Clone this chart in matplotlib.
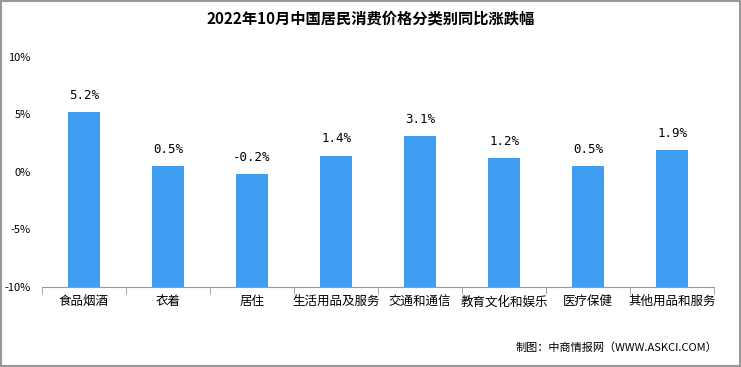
import matplotlib.pyplot as plt
import numpy as np

plt.rcParams['font.family'] = ['Noto Sans CJK SC', 'DejaVu Sans']

categories = ['食品烟酒', '衣着', '居住', '生活用品及服务', '交通和通信', '教育文化和娱乐', '医疗保健', '其他用品和服务']
values = [5.2, 0.5, -0.2, 1.4, 3.1, 1.2, 0.5, 1.9]
yticks = [-10, -5, 0, 5, 10]

fig = plt.figure(figsize=(7.41, 3.67), dpi=100)
ax = fig.add_axes([0.0567, 0.218, 0.907, 0.627])

x = np.arange(len(categories))
base = -10
# bars start at the bottom of the axis (-10%), as in the original
ax.bar(x, np.array(values) - base, bottom=base, width=0.38, color='#409EF2')
for xi, v in zip(x, values):
    ax.text(xi, v + 0.9, '%.1f%%' % v, ha='center', va='bottom', fontsize=9,
            family=['DejaVu Sans Mono', 'DejaVu Sans'])

ax.set_xlim(-0.5, len(categories) - 0.5)
ax.set_ylim(-10, 10)
ax.set_yticks(yticks)
ax.set_yticklabels(['%d%%' % t for t in yticks], fontsize=8)
ax.tick_params(axis='y', length=0, pad=8)

ax.set_xticks(x)
ax.set_xticklabels(categories, fontsize=9)
ax.set_xticks(np.arange(len(categories) + 1) - 0.5, minor=True)
ax.tick_params(axis='x', which='major', length=0, pad=6)
ax.tick_params(axis='x', which='minor', length=5, color='#999999')

for s in ['left', 'right', 'top']:
    ax.spines[s].set_visible(False)
ax.spines['bottom'].set_color('#999999')

fig.text(0.5, 0.948, '2022年10月中国居民消费价格分类别同比涨跌幅', ha='center', va='center',
         fontsize=11, fontweight='bold')
fig.text(0.968, 0.054, '制图：中商情报网（WWW.ASKCI.COM）', ha='right', va='center', fontsize=8)

fig.patches.append(plt.Rectangle((0.001, 0.002), 0.997, 0.995, transform=fig.transFigure,
                                 fill=False, edgecolor='#999999', linewidth=1.5))

fig.savefig('out.png', dpi=100)
